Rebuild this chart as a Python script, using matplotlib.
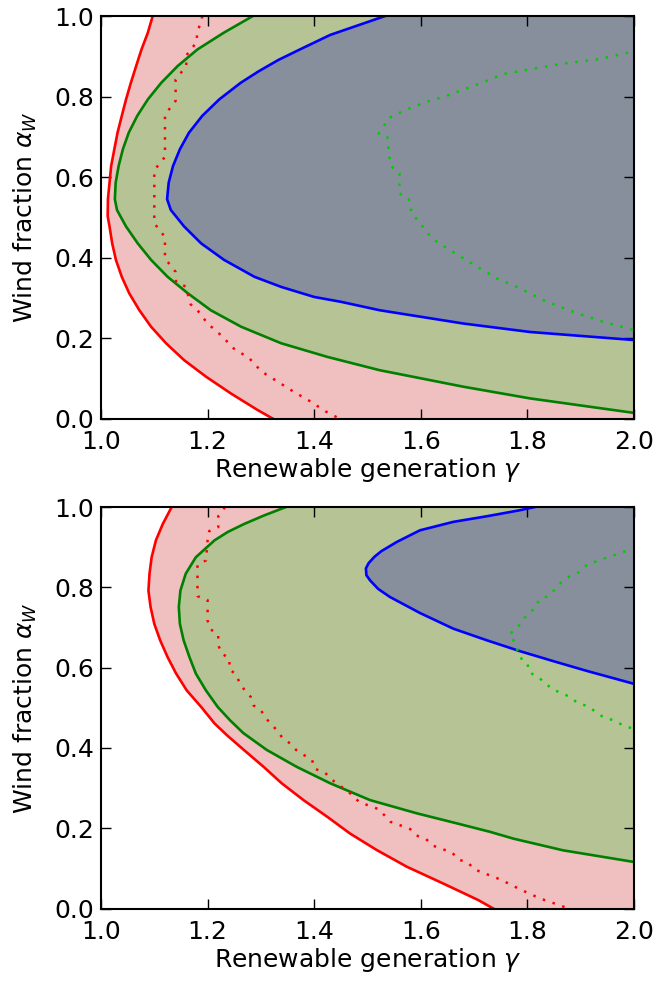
import matplotlib
matplotlib.use("Agg")
import matplotlib.pyplot as plt

# ---------------- Top panel data (gamma as function of alpha_W) ----------------
top_red_alpha = [1.0, 0.959, 0.917, 0.876, 0.834, 0.793, 0.752, 0.710, 0.669, 0.627, 0.586, 0.545, 0.503,
                 0.477, 0.435, 0.394, 0.352, 0.311, 0.269, 0.228, 0.187, 0.145, 0.104, 0.062, 0.021, 0.0]
top_red_gamma = [1.097, 1.088, 1.076, 1.066, 1.056, 1.047, 1.039, 1.031, 1.025, 1.019, 1.016, 1.013, 1.0125,
                 1.016, 1.021, 1.028, 1.039, 1.053, 1.072, 1.094, 1.122, 1.156, 1.197, 1.244, 1.294, 1.322]

top_green_alpha = [1.0, 0.959, 0.917, 0.876, 0.834, 0.793, 0.752, 0.710, 0.669, 0.627, 0.586, 0.545, 0.518,
                   0.477, 0.435, 0.394, 0.352, 0.311, 0.269, 0.228, 0.187, 0.153, 0.12, 0.079, 0.05, 0.014]
top_green_gamma = [1.285, 1.231, 1.181, 1.144, 1.113, 1.088, 1.068, 1.052, 1.041, 1.033, 1.0275, 1.026, 1.030,
                   1.047, 1.069, 1.094, 1.125, 1.163, 1.206, 1.263, 1.338, 1.425, 1.523, 1.680, 1.805, 2.0]

top_blue_alpha = [1.0, 0.953, 0.920, 0.891, 0.862, 0.834, 0.793, 0.752, 0.710, 0.669, 0.627, 0.586, 0.545,
                  0.518, 0.477, 0.435, 0.394, 0.352, 0.327, 0.302, 0.290, 0.269, 0.236, 0.215, 0.195]
top_blue_gamma = [1.533, 1.43, 1.378, 1.333, 1.295, 1.262, 1.222, 1.190, 1.165, 1.148, 1.135, 1.127, 1.124,
                  1.131, 1.156, 1.188, 1.231, 1.288, 1.338, 1.400, 1.450, 1.523, 1.680, 1.805, 2.0]

top_reddot_alpha = [1.0, 0.982, 0.962, 0.936, 0.902, 0.876, 0.842, 0.789, 0.755, 0.650, 0.617, 0.485, 0.451,
                    0.398, 0.364, 0.338, 0.328, 0.284, 0.269, 0.236, 0.206, 0.174, 0.150, 0.117, 0.092,
                    0.067, 0.044, 0.018, 0.0]
top_reddot_gamma = [1.190, 1.1876, 1.180, 1.180, 1.160, 1.160, 1.140, 1.140, 1.120, 1.120, 1.100, 1.100, 1.120,
                    1.120, 1.140, 1.141, 1.159, 1.168, 1.181, 1.200, 1.226, 1.249, 1.278, 1.301, 1.331,
                    1.361, 1.391, 1.421, 1.447]

top_greendot_alpha = [0.909, 0.892, 0.882, 0.866, 0.856, 0.837, 0.820, 0.802, 0.787, 0.768, 0.746, 0.725,
                      0.708, 0.700, 0.650, 0.626, 0.609, 0.559, 0.547, 0.510, 0.485, 0.447, 0.423, 0.398,
                      0.373, 0.348, 0.327, 0.294, 0.265, 0.240, 0.220]
top_greendot_gamma = [1.989, 1.930, 1.868, 1.798, 1.755, 1.720, 1.686, 1.649, 1.611, 1.574, 1.539, 1.530,
                      1.521, 1.537, 1.541, 1.545, 1.560, 1.560, 1.577, 1.583, 1.599, 1.621, 1.649, 1.680,
                      1.711, 1.743, 1.780, 1.830, 1.886, 1.943, 1.999]

# ---------------- Bottom panel data ----------------
bot_red_alpha = [1.0, 0.958, 0.917, 0.875, 0.834, 0.792, 0.751, 0.709, 0.668, 0.626, 0.585, 0.543, 0.502,
                 0.461, 0.432, 0.395, 0.353, 0.312, 0.270, 0.229, 0.187, 0.146, 0.104, 0.063, 0.021, 0.009, 0.0]
bot_red_gamma = [1.1326, 1.116, 1.103, 1.095, 1.091, 1.089, 1.093, 1.100, 1.111, 1.125, 1.141, 1.161, 1.188,
                 1.213, 1.236, 1.268, 1.305, 1.339, 1.380, 1.424, 1.467, 1.517, 1.574, 1.641, 1.708, 1.724, 1.736]

bot_green_alpha = [1.0, 0.979, 0.958, 0.938, 0.917, 0.875, 0.834, 0.792, 0.751, 0.709, 0.668, 0.626, 0.585,
                   0.543, 0.502, 0.469, 0.437, 0.395, 0.353, 0.312, 0.270, 0.237, 0.212, 0.191, 0.174,
                   0.145, 0.116]
bot_green_gamma = [1.347, 1.306, 1.269, 1.238, 1.213, 1.178, 1.159, 1.149, 1.146, 1.148, 1.155, 1.166, 1.178,
                   1.197, 1.219, 1.242, 1.267, 1.311, 1.367, 1.430, 1.505, 1.593, 1.668, 1.730, 1.774,
                   1.867, 2.0]

bot_blue_alpha = [1.0, 0.992, 0.977, 0.963, 0.942, 0.913, 0.890, 0.876, 0.860, 0.847, 0.830, 0.817, 0.796,
                  0.776, 0.736, 0.697, 0.668, 0.641, 0.616, 0.592, 0.560]
bot_blue_gamma = [1.814, 1.786, 1.724, 1.661, 1.5985, 1.555, 1.526, 1.513, 1.502, 1.497, 1.498, 1.505, 1.520,
                  1.542, 1.5985, 1.661, 1.724, 1.786, 1.849, 1.911, 1.999]

bot_reddot_alpha = [1.0, 0.993, 0.977, 0.950, 0.940, 0.917, 0.867, 0.856, 0.778, 0.768, 0.717, 0.695, 0.682,
                    0.656, 0.636, 0.622, 0.596, 0.582, 0.562, 0.543, 0.527, 0.506, 0.494, 0.474, 0.459,
                    0.442, 0.424, 0.411, 0.395, 0.382, 0.370, 0.348, 0.339, 0.323, 0.2825, 0.267, 0.257,
                    0.248, 0.232, 0.216, 0.207, 0.198, 0.182, 0.173, 0.157, 0.148, 0.139, 0.122, 0.114,
                    0.098, 0.088, 0.072, 0.048, 0.025, 0.008, 0.0]
bot_reddot_gamma = [1.232, 1.230, 1.220, 1.220, 1.203, 1.200, 1.197, 1.181, 1.181, 1.200, 1.200, 1.206, 1.220,
                    1.220, 1.226, 1.241, 1.241, 1.254, 1.260, 1.270, 1.281, 1.286, 1.300, 1.309, 1.320,
                    1.331, 1.341, 1.355, 1.366, 1.381, 1.396, 1.401, 1.420, 1.431, 1.472, 1.483, 1.501,
                    1.520, 1.532, 1.543, 1.562, 1.580, 1.592, 1.610, 1.622, 1.641, 1.659, 1.671, 1.689,
                    1.700, 1.719, 1.750, 1.786, 1.824, 1.861, 1.877]

bot_greendot_alpha = [0.890, 0.881, 0.873, 0.864, 0.854, 0.838, 0.827, 0.813, 0.795, 0.779, 0.770, 0.748,
                      0.734, 0.715, 0.697, 0.683, 0.670, 0.650, 0.626, 0.612, 0.589, 0.576, 0.562, 0.546,
                      0.537, 0.526, 0.512, 0.504, 0.477, 0.469, 0.456, 0.448]
bot_greendot_gamma = [1.984, 1.965, 1.947, 1.928, 1.910, 1.897, 1.879, 1.864, 1.852, 1.840, 1.822, 1.815,
                      1.800, 1.790, 1.780, 1.766, 1.773, 1.780, 1.785, 1.800, 1.803, 1.820, 1.834, 1.846,
                      1.864, 1.881, 1.894, 1.913, 1.942, 1.961, 1.980, 1.998]

x_ticks = [1.0, 1.2, 1.4, 1.6, 1.8, 2.0]
y_ticks = [0.0, 0.2, 0.4, 0.6, 0.8, 1.0]
xlabel = "Renewable generation $\\gamma$"
ylabel = "Wind fraction $\\alpha_W$"

PINK = "#f0c0c0"
OLIVE = "#b6c495"
SLATE = "#878f9c"
RED = "#ff0000"
DGREEN = "#007f00"
BLUE = "#0000ff"
LIME = "#00cc00"

panels = [
    dict(red=(top_red_alpha, top_red_gamma), green=(top_green_alpha, top_green_gamma),
         blue=(top_blue_alpha, top_blue_gamma), reddot=(top_reddot_alpha, top_reddot_gamma),
         greendot=(top_greendot_alpha, top_greendot_gamma)),
    dict(red=(bot_red_alpha, bot_red_gamma), green=(bot_green_alpha, bot_green_gamma),
         blue=(bot_blue_alpha, bot_blue_gamma), reddot=(bot_reddot_alpha, bot_reddot_gamma),
         greendot=(bot_greendot_alpha, bot_greendot_gamma)),
]

fig = plt.figure(figsize=(6.58, 9.82), dpi=100)
rects = [[0.1535, 0.5738, 0.810, 0.4099], [0.1535, 0.0748, 0.810, 0.4089]]
DOTS = (0, (1, 3.1))

for rect, p in zip(rects, panels):
    ax = fig.add_axes(rect)
    for key, fc in (("red", PINK), ("green", OLIVE), ("blue", SLATE)):
        a, g = p[key]
        ax.fill_betweenx(a, g, 2.0, facecolor=fc, edgecolor="none", zorder=1)
    for key, c in (("red", RED), ("green", DGREEN), ("blue", BLUE)):
        a, g = p[key]
        ax.plot(g, a, color=c, lw=1.9, zorder=3, solid_joinstyle="round")
    a, g = p["reddot"]
    ax.plot(g, a, color=RED, lw=1.8, linestyle=DOTS, zorder=4)
    a, g = p["greendot"]
    ax.plot(g, a, color=LIME, lw=1.8, linestyle=DOTS, zorder=4)

    ax.set_xlim(1.0, 2.0)
    ax.set_ylim(0.0, 1.0)
    ax.set_xticks(x_ticks)
    ax.set_yticks(y_ticks)
    ax.set_xticklabels([f"{v:.1f}" for v in x_ticks])
    ax.set_yticklabels([f"{v:.1f}" for v in y_ticks])
    ax.tick_params(direction="in", length=7.5, width=1.0, top=True, right=True,
                   labelsize=18, colors="black")
    ax.tick_params(axis="x", pad=8)
    ax.tick_params(axis="y", pad=5)
    for s in ax.spines.values():
        s.set_linewidth(1.5)
        s.set_zorder(5)
    ax.set_xlabel(xlabel, fontsize=18, labelpad=2)
    ax.set_ylabel(ylabel, fontsize=18, labelpad=11)

fig.savefig("out.png", dpi=100)
